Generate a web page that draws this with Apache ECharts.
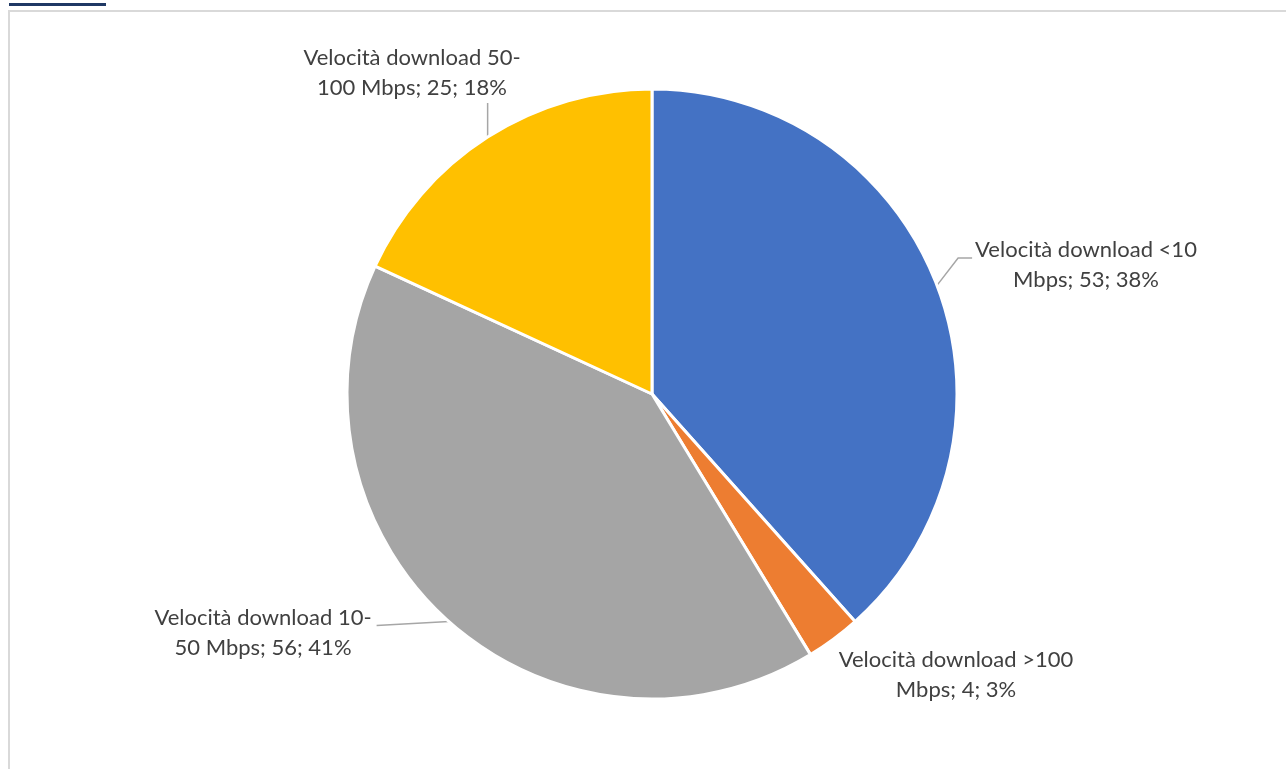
<!DOCTYPE html>
<html>
<head>
<meta charset="utf-8">
<script src="https://cdn.jsdelivr.net/npm/echarts@6/dist/echarts.min.js"></script>
<style>
  html, body { margin: 0; padding: 0; background: #fff; }
  #chart { width: 1286px; height: 769px; }
</style>
</head>
<body>
<div id="chart"></div>
<script>
// Download speed classes (label text is wrapped the way it is shown)
const categories = [
  'Velocità download <10\nMbps',
  'Velocità download >100\nMbps',
  'Velocità download 10-\n50 Mbps',
  'Velocità download 50-\n100 Mbps'
];
const values = [53, 4, 56, 25];
const colors = ['#4472C4', '#ED7D31', '#A5A5A5', '#FFC000'];

// Placement of each data label (centre of the text block)
const labelSpots = [
  { x: 1086, y: 265 },
  { x: 956, y: 675 },
  { x: 263, y: 633 },
  { x: 412, y: 73 }
];
// How each leader line reaches its label: 'left', 'right', 'up' or none
const leaderSide = ['left', null, 'right', 'up'];
const LABEL_HALF_HEIGHT = 30;

const chart = echarts.init(document.getElementById('chart'), null, { renderer: 'canvas' });

chart.setOption({
  animation: false,
  backgroundColor: '#ffffff',
  graphic: [
    {
      type: 'rect',
      shape: { x: 9, y: 11, width: 1400, height: 900 },
      style: { fill: 'none', stroke: '#d9d9d9', lineWidth: 2 },
      silent: true
    },
    {
      type: 'rect',
      shape: { x: 9, y: 3, width: 97, height: 3 },
      style: { fill: '#1f3864' },
      silent: true
    }
  ],
  series: [{
    type: 'pie',
    center: [652, 394],
    radius: 305,
    startAngle: 90,
    clockwise: true,
    avoidLabelOverlap: false,
    itemStyle: { borderColor: '#ffffff', borderWidth: 3 },
    label: {
      show: true,
      formatter: p => p.name + '; ' + p.value + '; ' + Math.round(p.percent) + '%',
      fontFamily: 'Lato',
      fontSize: 22,
      lineHeight: 30,
      color: '#404040',
      align: 'center'
    },
    labelLine: {
      show: true,
      lineStyle: { color: '#a6a6a6', width: 1.5 }
    },
    labelLayout: params => {
      const i = params.dataIndex;
      const s = labelSpots[i];
      const out = { x: s.x, y: s.y, align: 'center', verticalAlign: 'middle' };
      const side = leaderSide[i];
      if (side && params.labelLinePoints) {
        const a = params.labelLinePoints[0];
        const halfW = params.labelRect.width / 2;
        let pts;
        if (side === 'up') {
          const bottom = s.y + LABEL_HALF_HEIGHT;
          pts = [[a[0], a[1]], [a[0], bottom], [a[0], bottom]];
        } else if (side === 'left') {
          const end = s.x - halfW - 3;
          const yy = s.y - 7;
          pts = [[a[0], a[1]], [end - 14, yy], [end, yy]];
        } else {
          const end = s.x + halfW + 5;
          pts = [[a[0], a[1]], [end, a[1] + 4], [end, a[1] + 4]];
        }
        out.labelLinePoints = pts;
      }
      return out;
    },
    data: values.map((v, i) => ({
      name: categories[i],
      value: v,
      itemStyle: { color: colors[i] },
      labelLine: { show: !!leaderSide[i] }
    }))
  }]
});
</script>
</body>
</html>
